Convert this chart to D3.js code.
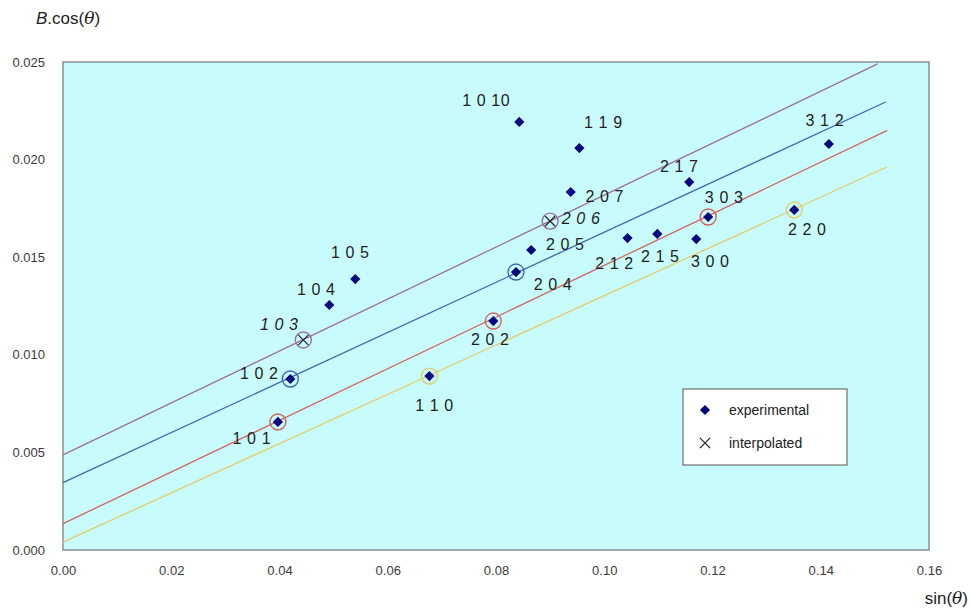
<!DOCTYPE html>
<html><head><meta charset="utf-8">
<script src="https://cdn.jsdelivr.net/npm/d3@7"></script>
<style>body{margin:0;background:#fff}svg{display:block;font-family:Arial,"Liberation Sans",Helvetica,sans-serif}</style>
</head><body><svg id="c" width="972" height="609"></svg>
<script>
// ---- data ----
const expLabels = ["1 0 1","1 0 2","1 0 4","1 0 5","1 1 0","1 0 10","1 1 9","2 0 7","2 0 5","2 0 4","2 0 2","2 1 2","2 1 5","3 0 0","2 1 7","3 0 3","2 2 0","3 1 2"];
const expX = [0.0397,0.0420,0.0492,0.0540,0.0677,0.0843,0.0954,0.0938,0.0865,0.0837,0.0795,0.1043,0.1098,0.1170,0.1157,0.1192,0.1351,0.1415];
const expY = [0.00656,0.00876,0.01255,0.01388,0.00891,0.02193,0.02059,0.01834,0.01537,0.01424,0.01173,0.01598,0.01619,0.01593,0.01885,0.01706,0.01742,0.02080];
const intLabels = ["1 0 3","2 0 6"];
const intX = [0.0444,0.0900];
const intY = [0.01076,0.01685];
const lineNames = ["purple","blue","red","yellow"];
const lineX0 = [0,0,0,0];
const lineY0 = [0.00487,0.00345,0.00135,0.00040];
const lineX1 = [0.1505,0.1520,0.1523,0.1522];
const lineY1 = [0.02490,0.02295,0.02150,0.01962];
const circledLabels = ["1 0 1","1 0 2","1 0 3","2 0 2","2 0 4","2 0 6","1 1 0","3 0 3","2 2 0"];
const circledLine   = ["red","blue","purple","red","blue","purple","yellow","red","yellow"];
const xTicks = [0,0.02,0.04,0.06,0.08,0.10,0.12,0.14,0.16];
const yTicks = [0,0.005,0.010,0.015,0.020,0.025];

// ---- layout / style ----
const lineColor = {purple:"#9a6f9a",blue:"#3f66b3",red:"#d2635e",yellow:"#e3cc6a"};
const labelOffset = {
 "1 0 1":[-26,18],"1 0 2":[-31,-4],"1 0 3":[-24,-14],"1 0 4":[-13,-14],"1 0 5":[-5,-25],
 "1 1 0":[5,31],"1 0 10":[-33,-20],"1 1 9":[24,-24],"2 0 7":[34,6],"2 0 6":[31,-1],
 "2 0 5":[34,-4],"2 0 4":[37,14],"2 0 2":[-3,20],"2 1 2":[-13,27],"2 1 5":[3,24],
 "3 0 0":[14,24],"2 1 7":[-10,-14],"3 0 3":[16,-18],"2 2 0":[13,21],"3 1 2":[-4,-22]
};
const L=63,R=929,T=62,B=550;
const svg=d3.select("#c");
const x=d3.scaleLinear().domain([0,0.16]).range([L,R]);
const y=d3.scaleLinear().domain([0,0.025]).range([B,T]);

svg.append("rect").attr("x",L).attr("y",T).attr("width",R-L).attr("height",B-T)
  .attr("fill","#c8fcfc").attr("stroke","#8c9090").attr("stroke-width",1.5);

// axes (labels only)
const xa=svg.append("g").attr("transform",`translate(0,${B})`)
  .call(d3.axisBottom(x).tickValues(xTicks).tickFormat(d3.format(".2f")).tickSize(0).tickPadding(16));
const ya=svg.append("g").attr("transform",`translate(${L},0)`)
  .call(d3.axisLeft(y).tickValues(yTicks).tickFormat(d3.format(".3f")).tickSize(0).tickPadding(18));
[xa,ya].forEach(g=>{g.select(".domain").remove();g.selectAll("text").attr("font-size",13).attr("fill","#3a3a3a").attr("font-family","Arial,'Liberation Sans',sans-serif");});

// fitted lines
svg.append("g").selectAll("line").data(lineNames).join("line")
  .attr("x1",(d,i)=>x(lineX0[i])).attr("y1",(d,i)=>y(lineY0[i]))
  .attr("x2",(d,i)=>x(lineX1[i])).attr("y2",(d,i)=>y(lineY1[i]))
  .attr("stroke",d=>lineColor[d]).attr("stroke-width",1.3);

// circles
const pos={};
expLabels.forEach((l,i)=>pos[l]=[expX[i],expY[i]]);
intLabels.forEach((l,i)=>pos[l]=[intX[i],intY[i]]);
svg.append("g").selectAll("circle").data(circledLabels).join("circle")
  .attr("cx",d=>x(pos[d][0])).attr("cy",d=>y(pos[d][1])).attr("r",8)
  .attr("fill","none").attr("stroke",(d,i)=>lineColor[circledLine[i]]).attr("stroke-width",1.4);

// experimental points (square rotated 45°)
const diamond=d3.symbol().type(d3.symbolSquare).size(52);
svg.append("g").selectAll("path").data(expLabels).join("path")
  .attr("d",diamond).attr("transform",(d,i)=>`translate(${x(expX[i])},${y(expY[i])}) rotate(45)`)
  .attr("fill","#06067e");

// interpolated points
svg.append("g").selectAll("path").data(intLabels).join("path")
  .attr("d",d3.symbol().type(d3.symbolX).size(70)).attr("transform",(d,i)=>`translate(${x(intX[i])},${y(intY[i])})`)
  .attr("fill","none").attr("stroke","#222").attr("stroke-width",1.2);

// labels
const lab=svg.append("g").attr("font-size",16).attr("fill","#1e1e1e");
expLabels.forEach((l,i)=>{
  const o=labelOffset[l];
  lab.append("text").attr("x",x(expX[i])+o[0]).attr("y",y(expY[i])+o[1]).attr("text-anchor","middle")
    .attr("dominant-baseline","middle").attr("letter-spacing",0.6).text(l);
});
intLabels.forEach((l,i)=>{
  const o=labelOffset[l];
  lab.append("text").attr("x",x(intX[i])+o[0]).attr("y",y(intY[i])+o[1]).attr("text-anchor","middle")
    .attr("dominant-baseline","middle").attr("font-style","italic").attr("letter-spacing",0.6).text(l);
});

// legend
const lg=svg.append("g");
lg.append("rect").attr("x",683).attr("y",389).attr("width",164).attr("height",76).attr("fill","#fff").attr("stroke","#555").attr("stroke-width",1);
lg.append("path").attr("d",diamond).attr("transform","translate(705,410) rotate(45)").attr("fill","#06067e");
lg.append("path").attr("d",d3.symbol().type(d3.symbolX).size(70)).attr("transform","translate(705,443)").attr("stroke","#222").attr("stroke-width",1.2).attr("fill","none");
lg.append("text").attr("x",729).attr("y",415).attr("font-size",14).attr("fill","#222").text("experimental");
lg.append("text").attr("x",729).attr("y",448).attr("font-size",14).attr("fill","#222").text("interpolated");

// axis titles
const t1=svg.append("text").attr("x",36).attr("y",24).attr("font-size",17).attr("fill","#222");
t1.append("tspan").attr("font-style","italic").text("B");
t1.append("tspan").text(".cos(");
t1.append("tspan").attr("font-style","italic").attr("font-family","'DejaVu Serif',serif").text("θ");
t1.append("tspan").text(")");
const t2=svg.append("text").attr("x",968).attr("y",604).attr("text-anchor","end").attr("font-size",17).attr("fill","#222");
t2.append("tspan").text("sin(");
t2.append("tspan").attr("font-style","italic").attr("font-family","'DejaVu Serif',serif").text("θ");
t2.append("tspan").text(")");
</script></body></html>
